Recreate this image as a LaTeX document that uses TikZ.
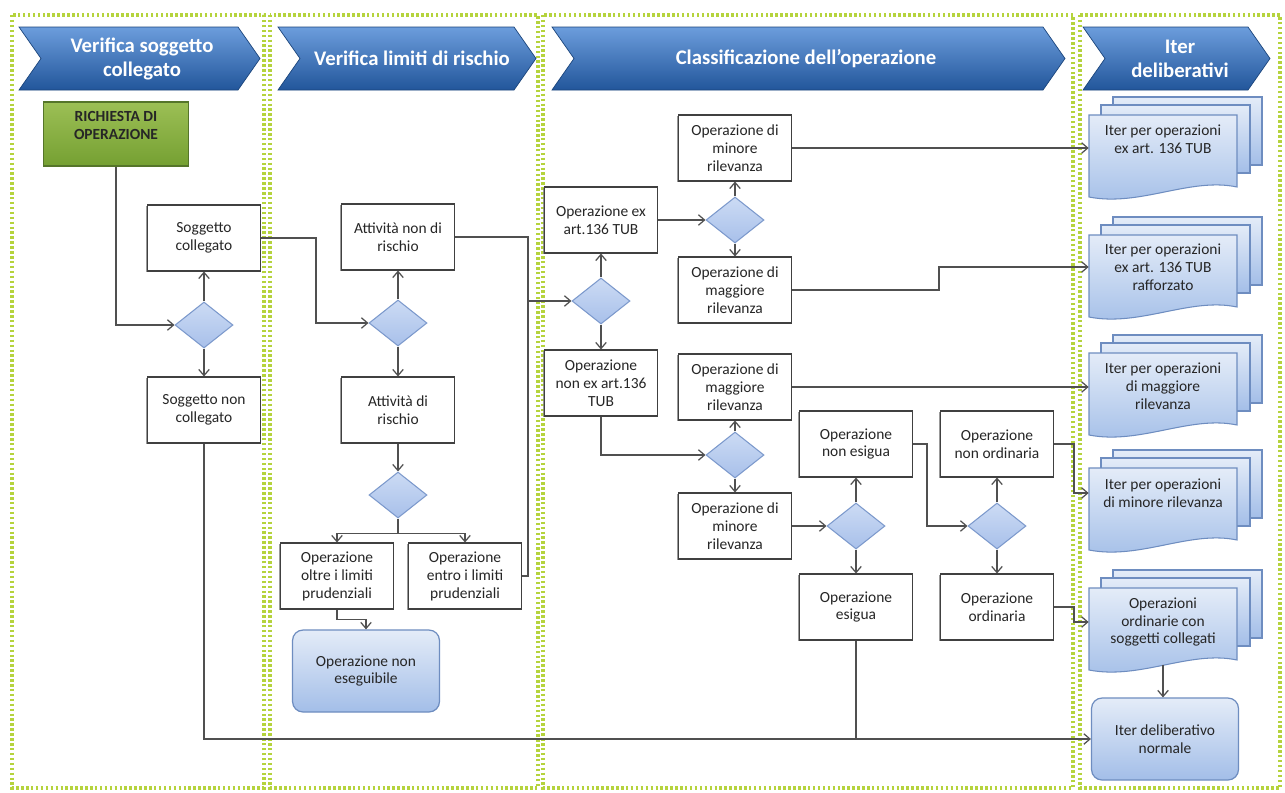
\documentclass[tikz,border=0pt]{standalone}
\usepackage{fontspec}
\setmainfont{Carlito}
\usepackage{xcolor}
\usepackage{tikz}
\usetikzlibrary{shapes.geometric,arrows.meta,shadows}
\definecolor{LaneDot}{HTML}{B5D33D}
\definecolor{HeadTop}{HTML}{6C9DDC}
\definecolor{HeadMid}{HTML}{3D76C2}
\definecolor{HeadBot}{HTML}{22569B}
\definecolor{DocTop}{HTML}{E4ECF8}
\definecolor{DocBot}{HTML}{A3BEE8}
\definecolor{DocLine}{HTML}{6E8DC0}
\definecolor{DecTop}{HTML}{CCDBF4}
\definecolor{DecBot}{HTML}{A8C0EA}
\definecolor{DecLine}{HTML}{7C99CC}
\definecolor{ReqTop}{HTML}{9CBF55}
\definecolor{ReqBot}{HTML}{75A032}
\definecolor{ReqLine}{HTML}{55752A}
\definecolor{BoxLine}{HTML}{404040}
\definecolor{ConnLine}{HTML}{505050}

\begin{document}
\begin{tikzpicture}[x=0.02cm,y=-0.02cm,
  font=\fontsize{8.8}{10.2}\selectfont,
  lane/.style={draw=LaneDot,line width=2pt,dash pattern=on 1.4pt off 1.4pt},
  head/.style={draw=HeadBot!80!black,line width=0.4pt,top color=HeadTop,middle color=HeadMid,bottom color=HeadBot},
  headtext/.style={text=white,font=\fontsize{11.8}{13.7}\selectfont\bfseries,align=center},
  opbox/.style={draw=BoxLine,fill=white,line width=0.6pt,align=center,inner sep=1pt,
    minimum width=2.26cm,minimum height=1.32cm,text=black!85,
    drop shadow={shadow xshift=-0.7pt,shadow yshift=-0.7pt,fill=black!50,opacity=0.8}},
  reqbox/.style={draw=ReqLine,top color=ReqTop,bottom color=ReqBot,line width=0.6pt,align=center,
    minimum width=2.9cm,minimum height=1.28cm,text=black!85,font=\fontsize{8.8}{10.2}\selectfont\bfseries},
  decision/.style={diamond,draw=DecLine,top color=DecTop,bottom color=DecBot,line width=0.6pt,
    minimum width=1.16cm,minimum height=0.92cm,inner sep=0pt},
  endbox/.style={draw=DocLine,top color=DocTop,bottom color=DocBot,line width=0.7pt,rounded corners=6pt,
    align=center,minimum width=2.94cm,minimum height=1.64cm,text=black!85},
  docpg/.style={draw=DocLine,top color=DocTop,bottom color=DocBot,line width=0.6pt},
  doctext/.style={align=center,minimum width=2.96cm,inner sep=0pt,text=black!85},
  conn/.style={draw=ConnLine,line width=0.7pt,-{Straight Barb[length=3.5pt,width=6pt]}},
  link/.style={draw=ConnLine,line width=0.7pt}]
\fill[white] (0,0) rectangle (1285,792);
\path[use as bounding box] (0,0) rectangle (1285,792);

% lanes
\draw[lane] (12,15) rectangle (264,788);
\draw[lane] (270,15) rectangle (538,788);
\draw[lane] (543,15) rectangle (1073,788);
\draw[lane] (1080,15) rectangle (1280,788);

% headers
\path[head] (19,27) -- (238,27) -- (260,58.5) -- (238,90) -- (19,90) -- (41,58.5) -- cycle;
\node[headtext] (h1) at (142,58.5) {Verifica soggetto\\collegato};
\path[head] (278,27) -- (514,27) -- (536,58.5) -- (514,90) -- (278,90) -- (300,58.5) -- cycle;
\node[headtext] (h2) at (412,58.5) {Verifica limiti di rischio};
\path[head] (552,27) -- (1043,27) -- (1065,58.5) -- (1043,90) -- (552,90) -- (574,58.5) -- cycle;
\node[headtext] (h3) at (806,58.5) {Classificazione dell’operazione};
\path[head] (1083,27) -- (1248,27) -- (1270,58.5) -- (1248,90) -- (1083,90) -- (1105,58.5) -- cycle;
\node[headtext] (h4) at (1180,58.5) {Iter\\deliberativi};

% document stacks
\path[docpg] (1113,97) rectangle (1262,165);
\path[docpg] (1101,105) rectangle (1250,173);
\path[docpg] (1089,115) -- (1237,115) -- (1237,187) .. controls (1190,177) and (1140,207) .. (1089,197) -- cycle;
\path[docpg] (1113,217) rectangle (1262,285);
\path[docpg] (1101,225) rectangle (1250,293);
\path[docpg] (1089,235) -- (1237,235) -- (1237,307) .. controls (1190,297) and (1140,327) .. (1089,317) -- cycle;
\path[docpg] (1113,335) rectangle (1262,403);
\path[docpg] (1101,343) rectangle (1250,411);
\path[docpg] (1089,353) -- (1237,353) -- (1237,425) .. controls (1190,415) and (1140,445) .. (1089,435) -- cycle;
\path[docpg] (1113,450) rectangle (1262,518);
\path[docpg] (1101,458) rectangle (1250,526);
\path[docpg] (1089,468) -- (1237,468) -- (1237,540) .. controls (1190,530) and (1140,560) .. (1089,550) -- cycle;
\path[docpg] (1113,570) rectangle (1262,638);
\path[docpg] (1101,578) rectangle (1250,646);
\path[docpg] (1089,588) -- (1237,588) -- (1237,660) .. controls (1190,650) and (1140,680) .. (1089,670) -- cycle;
\node[doctext] (doc1) at (1163,139) {Iter per operazioni\\ex art. 136 TUB};
\node[doctext] (doc2) at (1163,267) {Iter per operazioni\\ex art. 136 TUB\\rafforzato};
\node[doctext] (doc3) at (1163,386) {Iter per operazioni\\di maggiore\\rilevanza};
\node[doctext] (doc4) at (1163,493) {Iter per operazioni\\di minore rilevanza};
\node[doctext] (doc5) at (1163,622) {Operazioni\\ordinarie con\\soggetti collegati};
\coordinate (doc5b) at (1163,665);

% lane 1
\node[reqbox] (req) at (116,134) {RICHIESTA DI\\OPERAZIONE\\\mbox{}};
\node[opbox] (sc) at (204,238) {Soggetto\\collegato};
\node[decision] (dec1) at (204,325) {};
\node[opbox] (snc) at (204,410) {Soggetto non\\collegato};

% lane 2
\node[opbox] (anr) at (398,237) {Attività non di\\rischio};
\node[decision] (dec2) at (398,323) {};
\node[opbox] (ar) at (398,410) {Attività di\\rischio};
\node[decision] (dec3) at (398,495) {};
\node[opbox] (olt) at (337,576) {Operazione\\oltre i limiti\\prudenziali};
\node[opbox] (ent) at (465,576) {Operazione\\entro i limiti\\prudenziali};
\node[endbox] (nes) at (366,671) {Operazione non\\eseguibile};

% lane 3
\node[opbox] (ex) at (601,220) {Operazione ex\\art.136 TUB};
\node[decision] (dec4) at (601,301) {};
\node[opbox] (nex) at (601,383) {Operazione\\non ex art.136\\TUB};
\node[decision] (dec5) at (735,220) {};
\node[opbox] (min1) at (735,148) {Operazione di\\minore\\rilevanza};
\node[opbox] (mag1) at (735,290) {Operazione di\\maggiore\\rilevanza};
\node[opbox] (mag2) at (735,387) {Operazione di\\maggiore\\rilevanza};
\node[decision] (dec6) at (735,455) {};
\node[opbox] (min2) at (735,526) {Operazione di\\minore\\rilevanza};
\node[decision] (dec7) at (856,526) {};
\node[opbox] (nesig) at (856,444) {Operazione\\non esigua};
\node[opbox] (esig) at (856,607) {Operazione\\esigua};
\node[decision] (dec8) at (997,526) {};
\node[opbox] (nord) at (997,444) {Operazione\\non ordinaria};
\node[opbox] (ord) at (997,607) {Operazione\\ordinaria};

% lane 4
\node[endbox] (idn) at (1165,739) {Iter deliberativo\\normale};

% connectors
\draw[conn] (req.south) |- (dec1.west);
\draw[conn] (dec1.north) -- (sc.south);
\draw[conn] (dec1.south) -- (snc.north);
\draw[conn] (sc.east) -- ++(55,0) |- (dec2.west);
\draw[conn] (dec2.north) -- (anr.south);
\draw[conn] (dec2.south) -- (ar.north);
\draw[conn] (ar.south) -- (dec3.north);
\draw[conn] (dec3.south) -- ++(0,15) -| (olt.north);
\draw[conn] (dec3.south) ++(0,15) -| (ent.north);
\draw[conn] (olt.south) -- ++(0,10) -| (nes.north);
\coordinate (jr) at (528,301);
\draw[link] (anr.east) -| (jr);
\draw[link] (ent.east) -| (jr);
\draw[conn] (jr) -- (dec4.west);
\draw[conn] (dec4.north) -- (ex.south);
\draw[conn] (dec4.south) -- (nex.north);
\draw[conn] (ex.east) -- (dec5.west);
\draw[conn] (dec5.north) -- (min1.south);
\draw[conn] (dec5.south) -- (mag1.north);
\draw[conn] (nex.south) |- (dec6.west);
\draw[conn] (dec6.north) -- (mag2.south);
\draw[conn] (dec6.south) -- (min2.north);
\draw[conn] (min2.east) -- (dec7.west);
\draw[conn] (dec7.north) -- (nesig.south);
\draw[conn] (dec7.south) -- (esig.north);
\draw[conn] (nesig.east) -- ++(14,0) |- (dec8.west);
\draw[conn] (dec8.north) -- (nord.south);
\draw[conn] (dec8.south) -- (ord.north);
\draw[conn] (min1.east) -- (min1.east -| doc1.west);
\draw[conn] (mag1.east) -- ++(147,0) |- (doc2.west);
\draw[conn] (mag2.east) -- (mag2.east -| doc3.west);
\draw[conn] (nord.east) -- ++(20,0) |- (doc4.west);
\draw[conn] (ord.east) -- ++(20,0) |- (doc5.west);
\draw[conn] (doc5b) -- (doc5b |- idn.north);
\draw[conn] (snc.south) |- (idn.west);
\draw[link] (esig.south) -- (esig.south |- idn.west);
\end{tikzpicture}
\end{document}
